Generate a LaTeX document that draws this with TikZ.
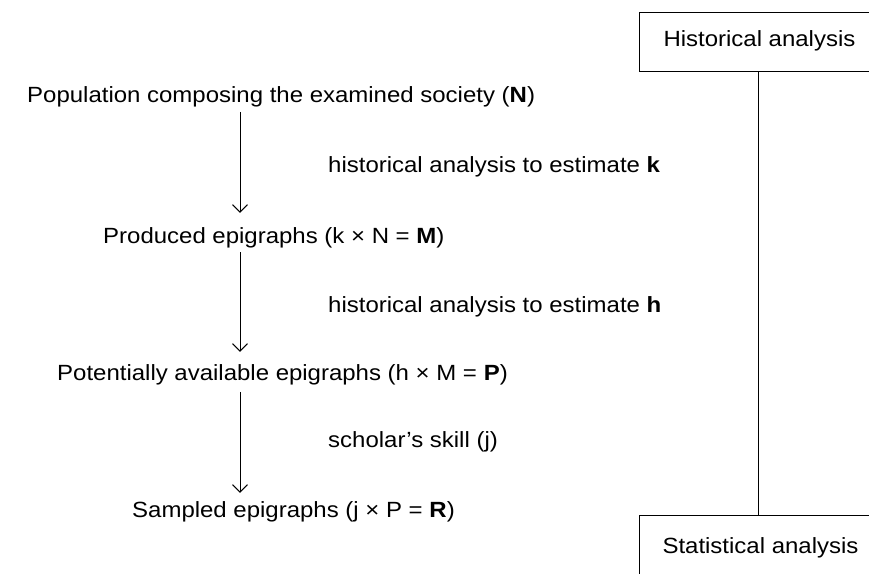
\documentclass[tikz,border=0pt]{standalone}
\usepackage{fontspec}
\usepackage{graphicx}
\setmainfont{Liberation Sans}
\usetikzlibrary{arrows.meta}
\newcommand{\hwide}[1]{\scalebox{1.09}[1]{#1}}
\begin{document}
\begin{tikzpicture}[x=1pt,y=-1pt,
  txt/.style={inner sep=0pt,anchor=base west,font=\fontsize{22}{26}\selectfont},
  box/.style={draw,line width=1pt,inner ysep=0pt,anchor=north west,font=\fontsize{22}{26}\selectfont},
  arr/.style={line width=1pt,-{Straight Barb[length=7.5pt,width=15pt,line width=1pt]}},
  conn/.style={line width=1pt}]
\useasboundingbox (0,0) rectangle (869,573);
\clip (0,0) rectangle (869,573);
\node[txt] (pop) at (27,102) {\hwide{Population composing the examined society (\textbf{N})}};
\node[txt] (prod) at (103,243) {\hwide{Produced epigraphs (k × N = \textbf{M})}};
\node[txt] (pot) at (57,380) {\hwide{Potentially available epigraphs (h × M = \textbf{P})}};
\node[txt] (samp) at (132,517) {\hwide{Sampled epigraphs (j × P = \textbf{R})}};
\node[txt] (l1) at (328,172) {\hwide{historical analysis to estimate \textbf{k}}};
\node[txt] (l2) at (328,312) {\hwide{historical analysis to estimate \textbf{h}}};
\node[txt] (l3) at (328,447) {\hwide{scholar's skill (j)}};
\coordinate (ax) at (240,0);
\draw[arr,shorten <=5pt,shorten >=14pt] (pop.south -| ax) -- (prod.north -| ax);
\draw[arr,shorten <=4.5pt,shorten >=12pt] (prod.south -| ax) -- (pot.north -| ax);
\draw[arr,shorten <=7pt,shorten >=8pt] (pot.south -| ax) -- (samp.north -| ax);
\node[box,inner xsep=24pt,text height=34pt,text depth=25pt] (hist) at (639,12) {\hwide{Historical analysis}};
\node[box,inner xsep=23pt,text height=38pt,text depth=40pt] (stat) at (639,515) {\hwide{Statistical analysis}};
\coordinate (vx) at (758,0);
\draw[conn] (hist.south -| vx) -- (stat.north -| vx);
\end{tikzpicture}
\end{document}
